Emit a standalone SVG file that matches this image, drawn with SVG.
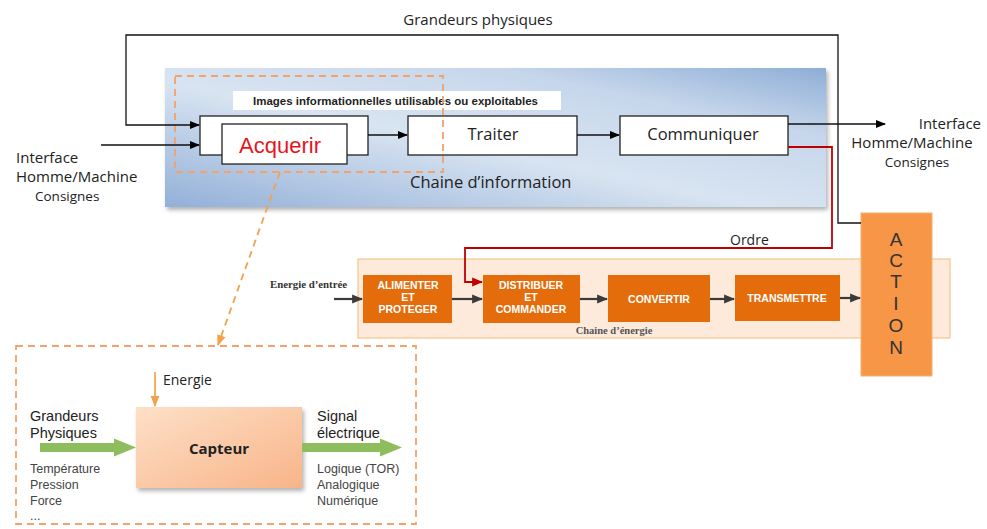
<svg xmlns="http://www.w3.org/2000/svg" width="987" height="529" viewBox="0 0 987 529">
<defs>
<linearGradient id="blueG" x1="0" y1="1" x2="1" y2="0">
<stop offset="0" stop-color="#93b0d8"/>
<stop offset="0.45" stop-color="#d8e4f1"/>
<stop offset="0.75" stop-color="#c6d6eb"/>
<stop offset="1" stop-color="#8eaed6"/>
</linearGradient>
<linearGradient id="capG" x1="0" y1="0" x2="1" y2="1">
<stop offset="0" stop-color="#fde0c8"/>
<stop offset="1" stop-color="#f8b488"/>
</linearGradient>
<marker id="ab" viewBox="0 0 10 10" refX="9" refY="5" markerWidth="10" markerHeight="10" markerUnits="userSpaceOnUse" orient="auto">
<path d="M0,1 L10,5 L0,9 z" fill="#000"/>
</marker>
<marker id="ag" viewBox="0 0 10 10" refX="9" refY="5" markerWidth="11" markerHeight="11" markerUnits="userSpaceOnUse" orient="auto">
<path d="M0,1 L10,5 L0,9 z" fill="#3a3a3a"/>
</marker>
<marker id="ar" viewBox="0 0 10 10" refX="9" refY="5" markerWidth="11" markerHeight="11" markerUnits="userSpaceOnUse" orient="auto">
<path d="M0,1 L10,5 L0,9 z" fill="#c00000"/>
</marker>
<marker id="ao" viewBox="0 0 10 10" refX="9" refY="5" markerWidth="11" markerHeight="11" markerUnits="userSpaceOnUse" orient="auto">
<path d="M0,1 L10,5 L0,9 z" fill="#f2a24f"/>
</marker>
<filter id="sh" x="-10%" y="-10%" width="130%" height="130%">
<feDropShadow dx="2" dy="3" stdDeviation="2" flood-color="#000" flood-opacity="0.3"/>
</filter>
</defs>
<style>
.sans{font-family:"Open Sans","Liberation Sans",sans-serif;fill:#222}
.ar{font-family:"Liberation Sans",Arial,sans-serif}
.lb{font-family:"Liberation Sans",Arial,sans-serif;font-size:14.5px;fill:#222}
.box{fill:#fff;stroke:#222;stroke-width:1.3}
.eb{fill:#e46c0a}
.et{font-family:"Liberation Sans",Arial,sans-serif;font-weight:bold;font-size:10.5px;fill:#fff;text-anchor:middle}
.ln{fill:none;stroke:#111;stroke-width:1.3}
.gl{fill:none;stroke:#3a3a3a;stroke-width:2.2}
.dash{fill:none;stroke:#f2a26a;stroke-width:1.8;stroke-dasharray:7,5}
.sm{font-family:"Liberation Sans",Arial,sans-serif;font-size:12.5px;fill:#444}
</style>
<rect width="987" height="529" fill="#fff"/>

<g id="chaine-information">
<rect x="165" y="68" width="661" height="139" fill="url(#blueG)" filter="url(#sh)"/>
<text x="410" y="188" class="sans" font-size="16.5">Chaine d’information</text>
</g>

<g id="chaine-energie">
<rect x="358" y="259" width="592" height="79" fill="#fdeadb" stroke="#f3c58c" stroke-width="1.2"/>
<text x="614" y="334" text-anchor="middle" font-family="Liberation Serif,serif" font-weight="bold" font-size="10.5" fill="#555">Chaine d’énergie</text>
</g>

<g id="images-label">
<rect x="233" y="91" width="328" height="19" fill="#fff"/>
<text x="253" y="104.5" class="ar" font-weight="bold" font-size="10.5" fill="#222" textLength="285" lengthAdjust="spacingAndGlyphs">Images informationnelles utilisables ou exploitables</text>
</g>

<g id="acquerir">
<rect x="200" y="116" width="168" height="39" class="box"/>
<rect x="222" y="124" width="125" height="40" class="box"/>
<text x="280" y="153" text-anchor="middle" class="ar" font-size="22" fill="#e8141c">Acquerir</text>
</g>

<g id="traiter">
<rect x="408" y="116" width="169" height="39" class="box"/>
<text x="493" y="140" text-anchor="middle" class="sans" font-size="16.5">Traiter</text>
</g>

<g id="communiquer">
<rect x="620" y="116" width="168" height="39" class="box"/>
<text x="703" y="140" text-anchor="middle" class="sans" font-size="16.5">Communiquer</text>
</g>

<g id="alimenter">
<rect x="363" y="275" width="89" height="48" class="eb"/>
<text x="408" y="289" class="et">ALIMENTER</text>
<text x="408" y="301" class="et">ET</text>
<text x="408" y="313" class="et">PROTEGER</text>
</g>
<g id="distribuer">
<rect x="483" y="275" width="97" height="48" class="eb"/>
<text x="531" y="289" class="et">DISTRIBUER</text>
<text x="531" y="301" class="et">ET</text>
<text x="531" y="313" class="et">COMMANDER</text>
</g>
<g id="convertir">
<rect x="608" y="275" width="102" height="47" class="eb"/>
<text x="659" y="303" class="et">CONVERTIR</text>
</g>
<g id="transmettre">
<rect x="735" y="275" width="105" height="46" class="eb"/>
<text x="787" y="302" class="et">TRANSMETTRE</text>
</g>

<g id="action">
<rect x="861" y="213" width="71" height="163" fill="#f79646" stroke="#f5b070" stroke-width="1"/>
<g class="ar" font-size="19" fill="#333" text-anchor="middle">
<text x="896" y="246">A</text>
<text x="896" y="267">C</text>
<text x="896" y="288">T</text>
<text x="896" y="310">I</text>
<text x="896" y="332">O</text>
<text x="896" y="354">N</text>
</g>
</g>

<g id="zoom-acquerir">
<rect x="175" y="76" width="268" height="96" class="dash"/>
<rect x="16" y="346" width="400" height="178" class="dash"/>
</g>

<g id="capteur">
<rect x="136" y="407" width="166" height="81" fill="url(#capG)" filter="url(#sh)"/>
<text x="219" y="454" text-anchor="middle" font-family="Open Sans,Liberation Sans,sans-serif" font-weight="bold" font-size="15" fill="#222">Capteur</text>
</g>

<g id="connectors">
<path d="M861,223 H838 V35 H126 V125 H199" class="ln" marker-end="url(#ab)"/>
<path d="M101,145 H199" class="ln" marker-end="url(#ab)"/>
<path d="M368,135 H407" class="ln" marker-end="url(#ab)"/>
<path d="M577,135 H619" class="ln" marker-end="url(#ab)"/>
<path d="M788,124 H885" class="ln" marker-end="url(#ab)"/>
<path d="M788,147 H832 V248 H465 V282 H482" fill="none" stroke="#c00000" stroke-width="1.8" marker-end="url(#ar)"/>
<path d="M334,299 H362" class="gl" marker-end="url(#ag)"/>
<path d="M452,299 H482" class="gl" marker-end="url(#ag)"/>
<path d="M580,299 H607" class="gl" marker-end="url(#ag)"/>
<path d="M710,299 H734" class="gl" marker-end="url(#ag)"/>
<path d="M840,298 H860" class="gl" marker-end="url(#ag)"/>
<path d="M280,172 L218,345" fill="none" stroke="#f2a24f" stroke-width="1.8" stroke-dasharray="7,5" marker-end="url(#ao)"/>
<path d="M155,372 V406" fill="none" stroke="#f0a030" stroke-width="1.6" marker-end="url(#ao)"/>
<polygon points="40,443 114,443 114,438.5 136,447.5 114,456.5 114,452 40,452" fill="#8dbd5c"/>
<polygon points="302,443 380,443 380,438.5 402,447.5 380,456.5 380,452 302,452" fill="#8dbd5c"/>
</g>

<g id="labels">
<text x="478" y="25" text-anchor="middle" class="sans" font-size="15">Grandeurs physiques</text>
<text x="16" y="163" class="sans" font-size="15">Interface</text>
<text x="16" y="182" class="sans" font-size="15">Homme/Machine</text>
<text x="35" y="201" class="sans" font-size="13.5">Consignes</text>
<text x="981" y="129" text-anchor="end" class="sans" font-size="15">Interface</text>
<text x="912" y="148" text-anchor="middle" class="sans" font-size="15">Homme/Machine</text>
<text x="917" y="167" text-anchor="middle" class="sans" font-size="13.5">Consignes</text>
<text x="730" y="245" class="sans" font-size="14">Ordre</text>
<text x="270" y="288" font-family="Liberation Serif,serif" font-weight="bold" font-size="10.8" fill="#333">Energie d’entrée</text>
<text x="163" y="385" class="sans" font-size="14">Energie</text>
<text x="30" y="421" class="lb">Grandeurs</text>
<text x="30" y="438" class="lb">Physiques</text>
<text x="30" y="473" class="sm">Température</text>
<text x="30" y="489" class="sm">Pression</text>
<text x="30" y="505" class="sm">Force</text>
<text x="30" y="520" class="sm">...</text>
<text x="317" y="421" class="lb">Signal</text>
<text x="317" y="438" class="lb">électrique</text>
<text x="317" y="473" class="sm">Logique (TOR)</text>
<text x="317" y="489" class="sm">Analogique</text>
<text x="317" y="505" class="sm">Numérique</text>
</g>
</svg>
